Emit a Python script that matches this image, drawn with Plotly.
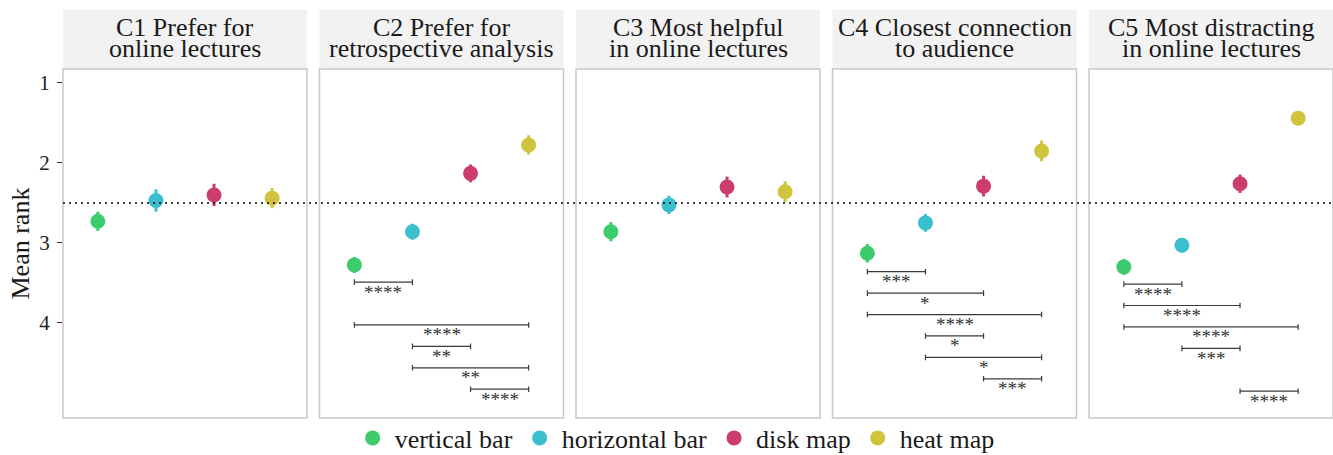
import plotly.graph_objects as go
from plotly.subplots import make_subplots

# ---------------- data ----------------
title_line1 = ["C1 Prefer for", "C2 Prefer for", "C3 Most helpful", "C4 Closest connection", "C5 Most distracting"]
title_line2 = ["online lectures", "retrospective analysis", "in online lectures", "to audience", "in online lectures"]

methods = ["vertical bar", "horizontal bar", "disk map", "heat map"]
colors = ["#3CCC6C", "#3BBFCE", "#CC3C6D", "#CEC53C"]

mean_c1 = [2.73, 2.47, 2.40, 2.44]
err_c1 = [0.12, 0.14, 0.14, 0.125]
mean_c2 = [3.275, 2.86, 2.13, 1.775]
err_c2 = [0.10, 0.10, 0.11, 0.12]
mean_c3 = [2.86, 2.525, 2.30, 2.36]
err_c3 = [0.12, 0.115, 0.13, 0.13]
mean_c4 = [3.13, 2.75, 2.29, 1.85]
err_c4 = [0.115, 0.11, 0.13, 0.13]
mean_c5 = [3.30, 3.03, 2.26, 1.44]
err_c5 = [0.10, 0.09, 0.115, 0.08]

# pairwise comparisons (method index pairs, 1-based) and significance labels ('' = n.s.)
pairs = [(1, 2), (1, 3), (1, 4), (2, 3), (2, 4), (3, 4)]
sig_c1 = ["", "", "", "", "", ""]
sig_c2 = ["****", "", "****", "**", "**", "****"]
sig_c3 = ["", "", "", "", "", ""]
sig_c4 = ["***", "*", "****", "*", "*", "***"]
sig_c5 = ["****", "****", "****", "***", "", "****"]

chance_rank = 2.5
y_ticks = [1, 2, 3, 4]

means = [mean_c1, mean_c2, mean_c3, mean_c4, mean_c5]
errs = [err_c1, err_c2, err_c3, err_c4, err_c5]
sigs = [sig_c1, sig_c2, sig_c3, sig_c4, sig_c5]

# ---------------- layout helpers ----------------
FONT = "Liberation Serif, Times New Roman, serif"
W, H = 1333, 455
ML, MR, MT, MB = 63, 0, 69, 37
plot_h = H - MT - MB
n = len(means)
gap_px = 12.5
fig = make_subplots(rows=1, cols=n, shared_yaxes=True,
                    horizontal_spacing=gap_px / (W - ML - MR))

def py(px):
    """pixel row -> paper y"""
    return (H - MB - px) / plot_h

bracket_offset = 0.115
bracket_step = 0.268
tip = 0.035

for k in range(n):
    col = k + 1
    for m in range(len(methods)):
        fig.add_trace(go.Scatter(
            x=[m + 1], y=[means[k][m]],
            mode="markers",
            marker=dict(color=colors[m], size=15),
            error_y=dict(type="data", array=[errs[k][m]], color=colors[m],
                         thickness=3, width=0),
            name=methods[m], legendgroup=methods[m],
            showlegend=(k == 0), hoverinfo="skip",
        ), row=1, col=col)

    xr = "x" if k == 0 else f"x{col}"
    yr = "y" if k == 0 else f"y{col}"
    # panel border
    fig.add_shape(type="rect", xref=f"{xr} domain", yref=f"{yr} domain",
                  x0=0, x1=1, y0=0, y1=1, line=dict(color="#c8c8c8", width=1.5))
    # strip
    fig.add_shape(type="rect", xref=f"{xr} domain", yref="paper",
                  x0=0, x1=1, y0=py(68), y1=py(10),
                  fillcolor="#f2f2f2", line=dict(width=0))
    fig.add_annotation(text=title_line1[k], xref=f"{xr} domain", yref="paper",
                       x=0.5, y=py(27), xanchor="center", yanchor="middle",
                       showarrow=False, font=dict(family=FONT, size=26, color="#1a1a1a"))
    fig.add_annotation(text=title_line2[k], xref=f"{xr} domain", yref="paper",
                       x=0.5, y=py(49), xanchor="center", yanchor="middle",
                       showarrow=False, font=dict(family=FONT, size=26, color="#1a1a1a"))

    # significance brackets
    if any(sigs[k]):
        base = max(mv + ev for mv, ev in zip(means[k], errs[k])) + bracket_offset
        for idx, ((i, j), lab) in enumerate(zip(pairs, sigs[k])):
            if not lab:
                continue
            yb = base + idx * bracket_step
            ln = dict(color="#3a3a3a", width=1.2)
            fig.add_shape(type="line", xref=xr, yref=yr, x0=i, x1=j, y0=yb, y1=yb, line=ln)
            fig.add_shape(type="line", xref=xr, yref=yr, x0=i, x1=i, y0=yb - tip, y1=yb + tip, line=ln)
            fig.add_shape(type="line", xref=xr, yref=yr, x0=j, x1=j, y0=yb - tip, y1=yb + tip, line=ln)
            fig.add_annotation(text=lab, xref=xr, yref=yr, x=(i + j) / 2, y=yb,
                               xanchor="center", yanchor="middle", yshift=-10,
                               showarrow=False,
                               font=dict(family=FONT, size=19, color="#333333"))

# chance line across all panels
fig.add_shape(type="line", xref="paper", yref="y", x0=0, x1=1,
              y0=chance_rank, y1=chance_rank,
              line=dict(color="black", width=1.5, dash="2px,4px"))

fig.update_xaxes(range=[0.4, 4.6], showticklabels=False, ticks="", showgrid=False,
                 zeroline=False, showline=False, fixedrange=True, automargin=False)
fig.update_yaxes(range=[5.19, 0.825], tickvals=y_ticks, showgrid=False, zeroline=False,
                 showline=False, automargin=False)
fig.update_yaxes(row=1, col=1, ticks="outside", ticklen=5, tickwidth=1.2, tickcolor="#333333",
                 tickfont=dict(family=FONT, size=21, color="#222222"), ticklabelstandoff=3)

fig.add_annotation(text="Mean rank", xref="paper", yref="paper", textangle=-90,
                   x=(20 - ML) / (W - ML - MR), y=0.5, xanchor="center", yanchor="middle",
                   showarrow=False, font=dict(family=FONT, size=26, color="#1a1a1a"))

fig.update_layout(
    width=W, height=H, autosize=False,
    margin=dict(l=ML, r=MR, t=MT, b=MB, autoexpand=False),
    plot_bgcolor="white", paper_bgcolor="white",
    font=dict(family=FONT, size=24, color="#1a1a1a"),
    legend=dict(orientation="h", x=0.482, xanchor="center", y=py(438), yanchor="middle",
                itemwidth=34,
                font=dict(family=FONT, size=26, color="#1a1a1a"),
                bgcolor="rgba(0,0,0,0)", itemclick=False, itemdoubleclick=False),
    showlegend=True,
)

fig.write_html("out.html", config={"displayModeBar": False},
               post_script="document.body.style.margin='0';")
